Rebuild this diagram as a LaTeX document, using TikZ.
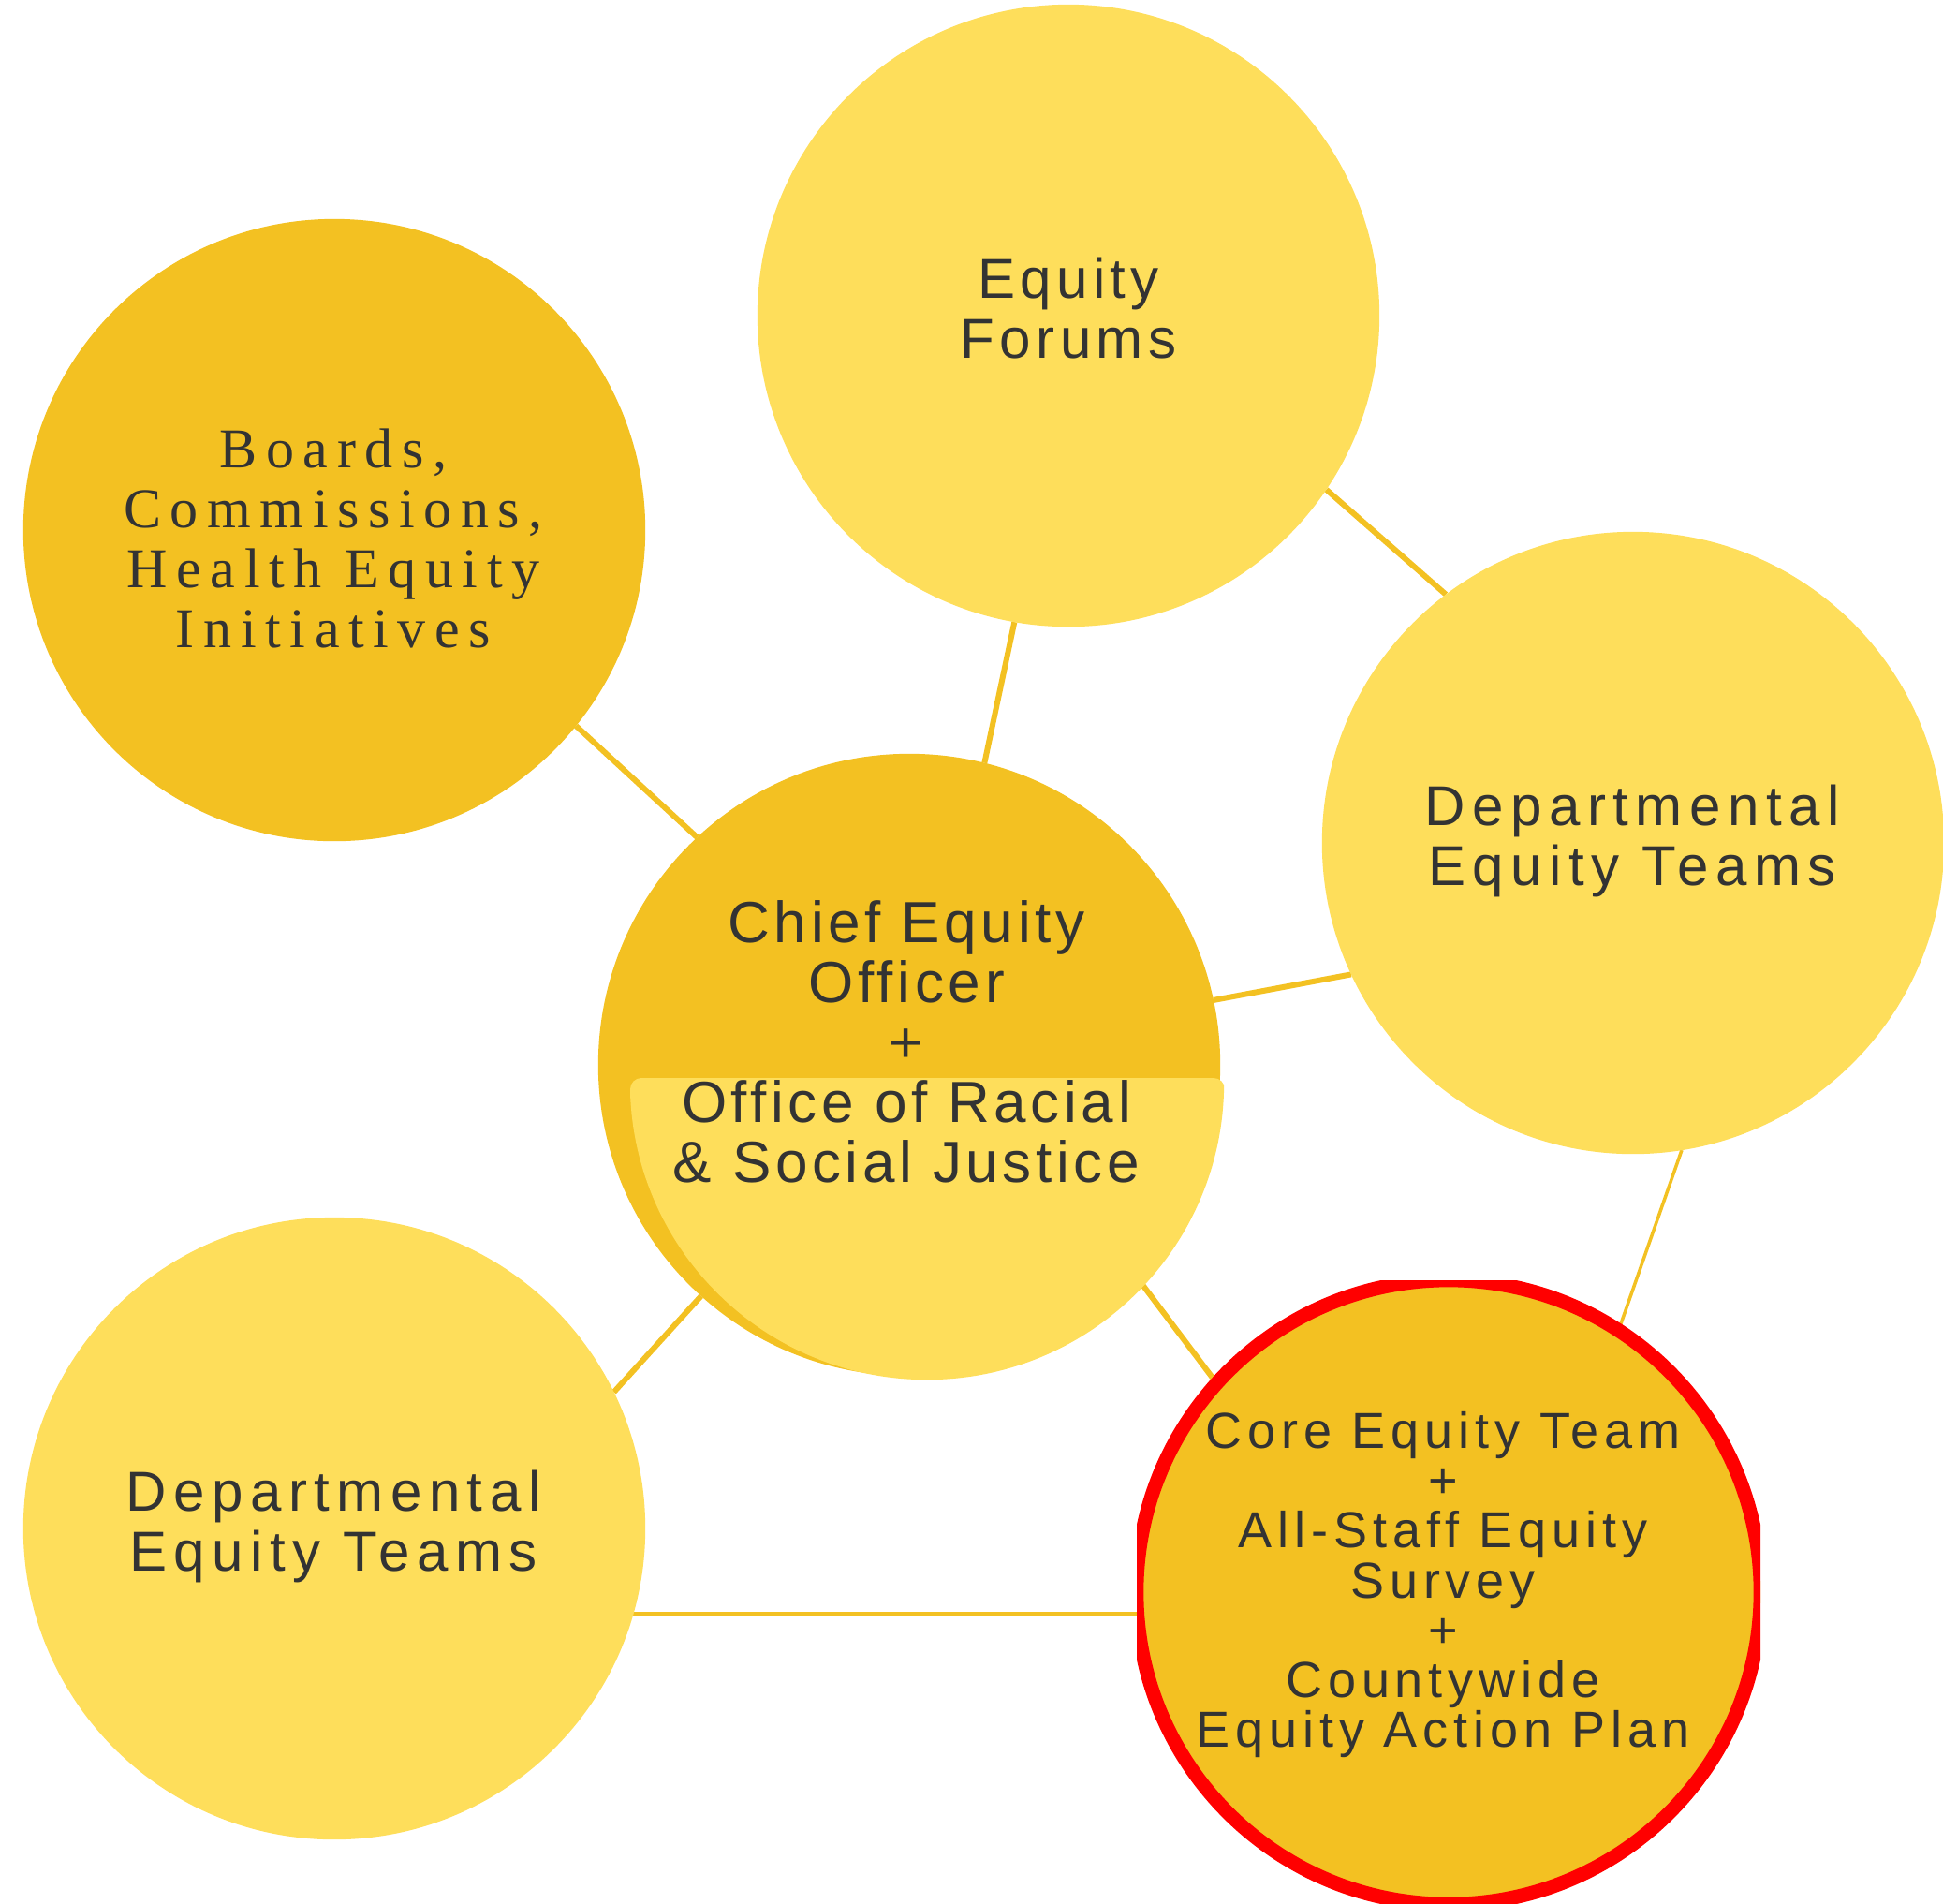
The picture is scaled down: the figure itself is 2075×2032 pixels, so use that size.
\documentclass[tikz,border=0pt]{standalone}
\usepackage{fontspec}
\usetikzlibrary{backgrounds}
\newfontfamily\lsans[LetterSpace=7.5]{Liberation Sans}
\newfontfamily\lsansf[LetterSpace=9]{Liberation Sans}
\newfontfamily\lsansc[LetterSpace=11]{Liberation Sans}
\newfontfamily\lsansw[LetterSpace=12.5]{Liberation Sans}
\newfontfamily\lserif[LetterSpace=16]{Liberation Serif}
\definecolor{gold}{HTML}{F3C122}
\definecolor{lightgold}{HTML}{FEDE5B}
\definecolor{ink}{HTML}{333333}
\begin{document}
\begin{tikzpicture}[x=0.01cm,y=-0.01cm,
  bubble/.style={circle, minimum size=6.64cm, inner sep=0pt, outer sep=0pt},
  darkbub/.style={bubble, fill=gold},
  lightbub/.style={bubble, fill=lightgold},
  lbl/.style={align=center, inner sep=0pt, outer sep=0pt, text=ink},
  linkthick/.style={draw=gold, line width=0.06cm},
  linkthin/.style={draw=gold, line width=0.035cm}]
\useasboundingbox (0,0) rectangle (2075,2032);

% circles
\node[darkbub] (boards) at (357,566) {};
\node[lightbub] (forums) at (1141,337) {};
\node[lightbub] (deptr) at (1744,900) {};
\node[darkbub] (ceo) at (971,1137) {};
\node[lightbub] (deptl) at (357,1632) {};
\begin{scope}
  \clip (1214,1367) rectangle (1880,2040);
  \node[bubble, fill=gold, draw=red, line width=0.15cm, minimum size=6.66cm] (core) at (1547,1700) {};
\end{scope}
\coordinate (hl) at (357,1723);

% lighter lower part of the central circle
\begin{scope}
  \clip[rounded corners=0.12cm] (673,1151) rectangle (1308,1490);
  \fill[lightgold] (990,1156) circle[radius=3.17cm];
\end{scope}

% connectors
\begin{pgfonlayer}{background}
  \path[linkthick] (boards.-39.6) -- (ceo.133.7);
  \path[linkthick] (forums.-100.4) -- (ceo.76);
  \path[linkthick] (forums.-34.7) -- (deptr.127.5);
  \path[linkthick] (ceo.12.8) -- (deptr.-155.2);
  \path[linkthin] (deptr.-81.5) -- (core.57.2);
  \path[linkthick] (ceo.-43.9) -- (core.138);
  \path[linkthick] (ceo.-132.3) -- (deptl.26.6);
  \path[linkthin] (deptl.center |- hl) -- (core.west |- hl);
\end{pgfonlayer}

% texts
\node[lbl, font=\lserif\fontsize{17.07}{18.21}\selectfont] (boards-t) at (356,575)
  {Boards,\\Commissions,\\Health Equity\\Initiatives};
\node[lbl, font=\lsansf\fontsize{17.07}{18.35}\selectfont] (forums-t) at (1141,329)
  {Equity\\Forums};
\node[lbl, font=\lsansw\fontsize{17.07}{18.35}\selectfont] (deptr-t) at (1743,898)
  {Departmental\\Equity Teams};
\node[lbl, font=\lsansw\fontsize{17.07}{18.35}\selectfont] (deptl-t) at (356,1630)
  {Departmental\\Equity Teams};
\node[lbl, font=\lsans\fontsize{17.64}{18.21}\selectfont] (ceo-t) at (968,1112)
  {Chief Equity\\Officer\\+\\Office of Racial\\\& Social Justice};
\node[lbl, font=\lsansc\fontsize{15.36}{15.15}\selectfont] (core-t) at (1541,1692)
  {Core Equity Team\\+\\All-Staff Equity\\Survey\\+\\Countywide\\Equity Action Plan};
\end{tikzpicture}
\end{document}
